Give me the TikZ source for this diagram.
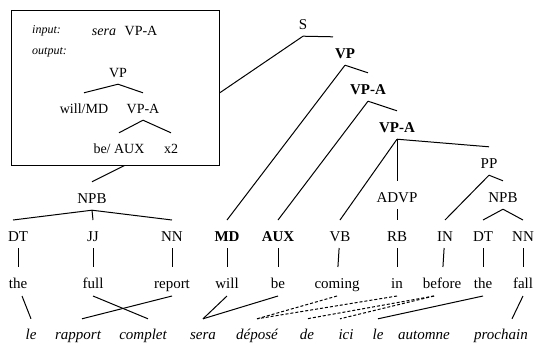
\documentclass[tikz,border=0pt]{standalone}
\usepackage{fontspec}
\setmainfont{Liberation Serif}
\usetikzlibrary{calc, positioning}

\begin{document}
\begin{tikzpicture}[x = 1pt, y = -1pt]

\tikzstyle{link} = [line width=1pt];
\tikzstyle{dlink} = [line width=1pt, dash pattern=on 3pt off 2pt];
\tikzstyle{phrase} = [font=\fontsize{15}{18}\selectfont, inner sep=0pt, text height=21pt, text depth=7pt, anchor=base];
\tikzstyle{tag} = [font=\fontsize{15}{18}\selectfont, inner sep=0pt, text height=17pt, text depth=3pt, outer sep=4pt, anchor=base];
\tikzstyle{word} = [font=\fontsize{15}{18}\selectfont, inner sep=0pt, text height=17pt, text depth=4pt, outer sep=4pt, anchor=base];
\tikzstyle{french} = [font=\fontsize{15}{18}\selectfont\itshape, inner sep=0pt, text height=20pt, text depth=4pt, anchor=base];
\tikzstyle{small} = [font=\fontsize{14}{17}\selectfont, inner sep=0pt, text height=20pt, text depth=7pt, anchor=base];
\tikzstyle{label} = [font=\fontsize{12}{14}\selectfont\itshape, inner sep=0pt, anchor=base west];

\useasboundingbox (0,0) rectangle (535,343);

\node(frame) [draw, line width=1pt, minimum width=208pt, minimum height=155pt, inner sep=0pt] at (115,87.5) {};

\node(inLab) [label] at (32,33) {input:};
\node(inSera) [small, font=\fontsize{14}{17}\selectfont\itshape] at (104,35) {sera};
\node(inVPA) [small] at (141,35) {VP-A};
\node(outLab) [label] at (32,54) {output:};

\node(bVP) [small] at (118,77) {VP};
\node(bMD) [small] at (84,113) {will/MD};
\node(bVPA) [small] at (143,113) {VP-A};
\node(bAUX) [small] at (119,153) {be/ AUX};
\node(bX) [small] at (171,153) {x2};

\node(S) [phrase] at (303,29) {S};
\node(VP) [phrase, font=\fontsize{15}{18}\selectfont\bfseries] at (345,58) {VP};
\node(VPA) [phrase, font=\fontsize{15}{18}\selectfont\bfseries] at (368,94) {VP-A};
\node(VPAb) [phrase, font=\fontsize{15}{18}\selectfont\bfseries] at (397,132) {VP-A};
\node(PP) [phrase] at (489,168) {PP};
\node(ADVP) [phrase] at (397,202) {ADVP};
\node(NPBa) [phrase] at (92,203) {NPB};
\node(NPBb) [phrase] at (503,202) {NPB};

\node(DTa) [tag] at (18,241) {DT};
\node(JJ) [tag] at (93,241) {JJ};
\node(NNa) [tag] at (172,241) {NN};
\node(MD) [tag, font=\fontsize{15}{18}\selectfont\bfseries] at (227,241) {MD};
\node(AUX) [tag, font=\fontsize{15}{18}\selectfont\bfseries] at (278,241) {AUX};
\node(VB) [tag] at (340,241) {VB};
\node(RB) [tag] at (397,241) {RB};
\node(IN) [tag] at (445,241) {IN};
\node(DTb) [tag] at (483,241) {DT};
\node(NNb) [tag] at (523,241) {NN};

\node(wThe) [word] at (18,288) {the};
\node(wFull) [word] at (93,288) {full};
\node(wReport) [word] at (172,288) {report};
\node(wWill) [word] at (227,288) {will};
\node(wBe) [word] at (278,288) {be};
\node(wComing) [word] at (337,288) {coming};
\node(wIn) [word] at (397,288) {in};
\node(wBefore) [word] at (442,288) {before};
\node(wTheb) [word] at (483,288) {the};
\node(wFall) [word] at (523,288) {fall};

\node(fLe) [french] at (31,339) {le};
\node(fRapport) [french] at (78,339) {rapport};
\node(fComplet) [french] at (143,339) {complet};
\node(fSera) [french] at (203,339) {sera};
\node(fDepose) [french] at (257,339) {déposé};
\node(fDe) [french] at (307,339) {de};
\node(fIci) [french] at (346,339) {ici};
\node(fLeb) [french] at (378,339) {le};
\node(fAutomne) [french] at (424,339) {automne};
\node(fProchain) [french] at (501,339) {prochain};

\draw [link] (bVP.south) -- (bMD.north);
\draw [link] (bVP.south) -- (bVPA.north);
\draw [link] (bVPA.south) -- (bAUX.north);
\draw [link] (bVPA.south) -- (bX.north);

\draw [link] (S.south) -- (frame.-3);
\draw [link] (S.south) -- ([xshift=-12pt]VP.north);
\draw [link] (frame.-83) -- (NPBa.north);

\draw [link] (VP.south) -- (VPA.north);
\draw [link] (VP.south) -- (MD.north);
\draw [link] (VPA.south) -- (VPAb.north);
\draw [link] (VPA.south) -- (AUX.north);
\draw [link] (VPAb.south) -- (VB.north);
\draw [link] (VPAb.south) -- (ADVP.north);
\draw [link] (VPAb.south) -- (PP.north);
\draw [link] (PP.south) -- (IN.north);
\draw [link] (PP.south) -- (NPBb.north);
\draw [link] (ADVP.south) -- (RB.north);
\draw [link] (NPBb.south) -- (DTb.north);
\draw [link] (NPBb.south) -- (NNb.north);

\draw [link] (NPBa.south) -- ([xshift=-5pt]DTa.north);
\draw [link] (NPBa.south) -- (JJ.north);
\draw [link] (NPBa.south) -- (NNa.north);

\draw [link] (DTa) -- (wThe);
\draw [link] (JJ) -- (wFull);
\draw [link] (NNa) -- (wReport);
\draw [link] (MD) -- (wWill);
\draw [link] (AUX) -- (wBe);
\draw [link] (VB) -- (wComing);
\draw [link] (RB) -- (wIn);
\draw [link] (IN) -- (wBefore);
\draw [link] (DTb) -- (wTheb);
\draw [link] (NNb) -- (wFall);

\draw [link] ([xshift=4pt]wThe.south) -- (fLe.north);
\draw [link] (wFull.south) -- ([xshift=5pt]fComplet.north);
\draw [link] (wReport.south) -- ([xshift=4pt]fRapport.north);
\draw [link] (wWill.south) -- (fSera.north);
\draw [link] (wBe.south) -- (fSera.north);
\draw [dlink] (wComing.south) -- (fDepose.north);
\draw [dlink] (wIn.south) -- (fDepose.north);
\draw [dlink] ([xshift=-8pt]wBefore.south) -- (fDe.north);
\draw [dlink] ([xshift=-8pt]wBefore.south) -- ([xshift=-6pt]fIci.north);
\draw [link] (wTheb.south) -- (fLeb.north);
\draw [link] (wFall.south) -- ([xshift=11pt]fProchain.north);

\end{tikzpicture}
\end{document}
